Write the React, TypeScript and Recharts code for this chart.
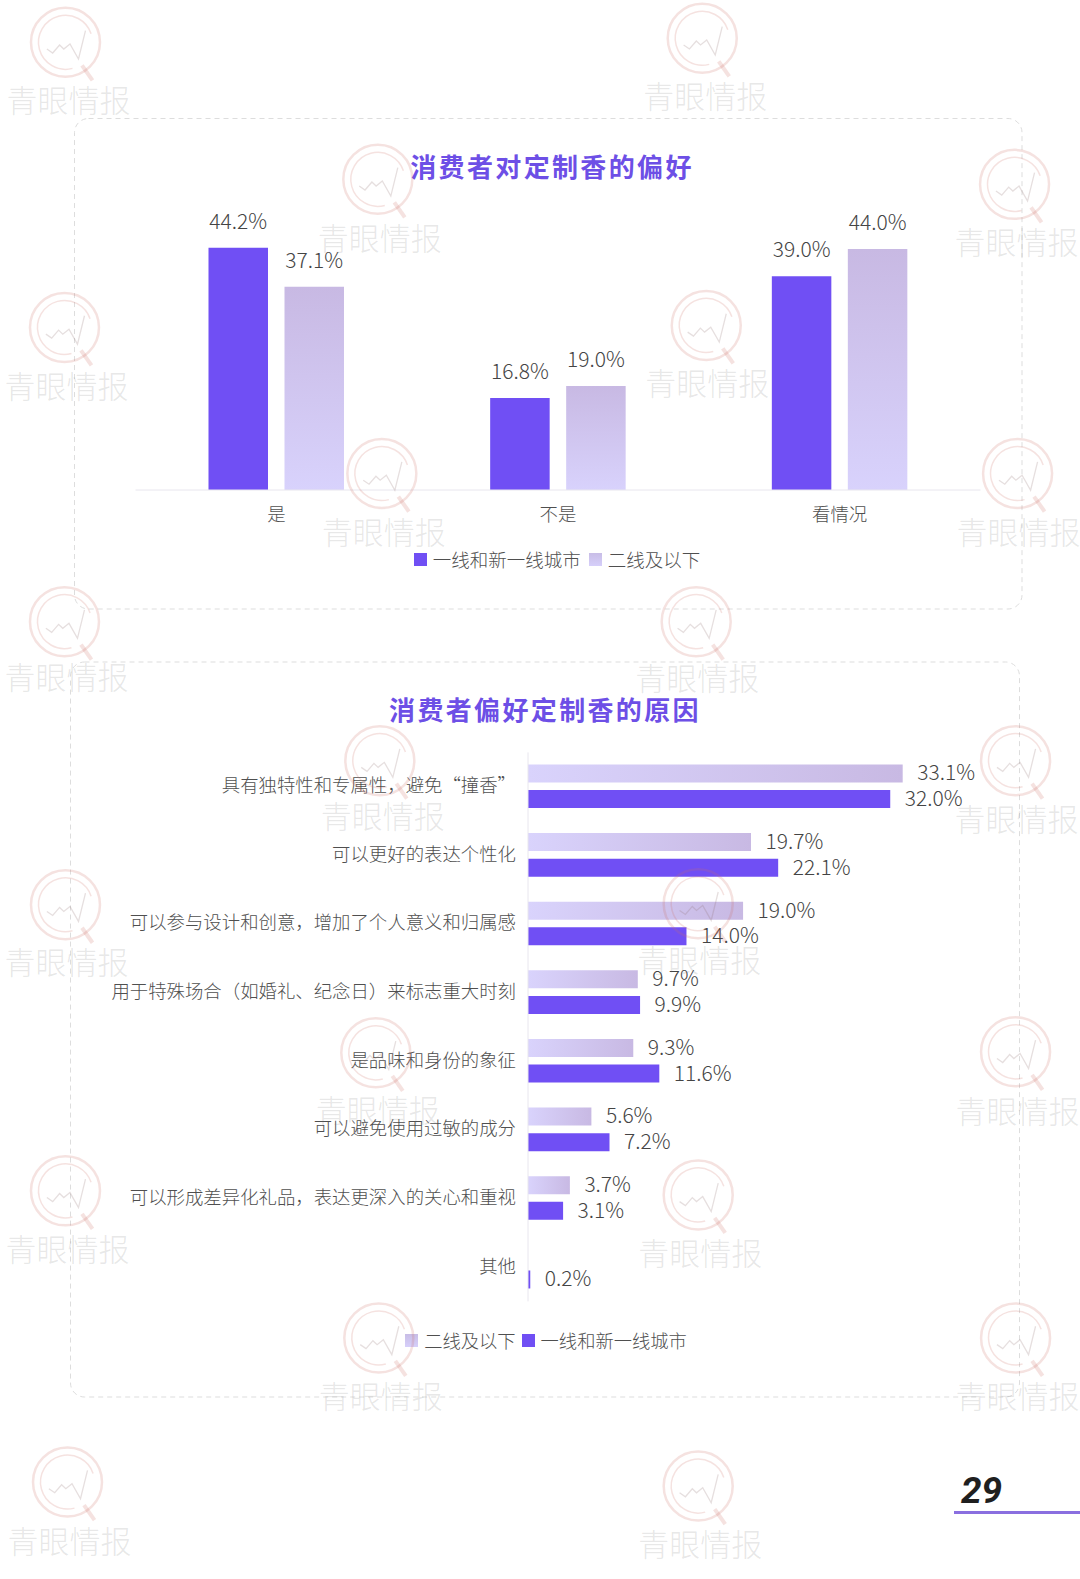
import React from "react";
import { BarChart, Bar, XAxis, YAxis, Legend, LabelList } from "recharts";

const FONT = '"Noto Sans CJK SC", "Noto Sans", sans-serif';
const PURPLE = "#704ff4";
const TEXT = "#4f4f4f";

// Chart 1
const prefCategories = ["是", "不是", "看情况"];
const prefTier1 = [44.2, 16.8, 39.0];
const prefTier2 = [37.1, 19.0, 44.0];
const prefData = prefCategories.map((name, i) => ({ name, tier1: prefTier1[i], tier2: prefTier2[i] }));

// Chart 2
const reasonCategories = [
  "具有独特性和专属性，避免“撞香”",
  "可以更好的表达个性化",
  "可以参与设计和创意，增加了个人意义和归属感",
  "用于特殊场合（如婚礼、纪念日）来标志重大时刻",
  "是品味和身份的象征",
  "可以避免使用过敏的成分",
  "可以形成差异化礼品，表达更深入的关心和重视",
  "其他",
];
const reasonTier2: (number | null)[] = [33.1, 19.7, 19.0, 9.7, 9.3, 5.6, 3.7, null];
const reasonTier1 = [32.0, 22.1, 14.0, 9.9, 11.6, 7.2, 3.1, 0.2];
const reasonData = reasonCategories.map((name, i) => ({ name, tier1: reasonTier1[i], tier2: reasonTier2[i] }));

const TIER1_NAME = "一线和新一线城市";
const TIER2_NAME = "二线及以下";

// Watermark anchors: [circle x, circle y, text x, text y]
const watermarks = [
  [65, 42, 68, 100], [697, 38, 700, 96], [375, 178, 377, 237], [1007, 183, 1009, 241],
  [64, 325, 66, 384], [701, 323, 702, 381], [379, 470, 381, 529], [1010, 470, 1011, 529],
  [64, 617, 66, 672], [691, 617, 692, 673], [377, 755, 380, 810], [1008, 755, 1009, 813],
  [65, 898, 66, 955], [693, 897, 694, 953], [373, 1045, 375, 1102], [1008, 1044, 1010, 1103],
  [65, 1182, 67, 1240], [693, 1186, 695, 1244], [376, 1328, 378, 1386], [1008, 1328, 1010, 1386],
  [67, 1471, 69, 1530], [693, 1475, 695, 1533],
];
const WM_SCALE = 1.0075;

const fmt = (v: any) => (v === null || v === undefined ? "" : `${Number(v).toFixed(1)}%`);

const swatchStyle = (key: string) => ({
  display: "inline-block",
  width: 13,
  height: 13,
  marginRight: 6,
  background: key === "tier1" ? PURPLE : "linear-gradient(180deg,#c8bde6,#d6cffa)",
});

const legendContent = (gap: number, size: number) => (props: any) => (
  <div style={{ display: "flex", justifyContent: "center", alignItems: "center", fontFamily: FONT, fontWeight: 300, fontSize: size, color: TEXT, lineHeight: "26px", whiteSpace: "nowrap" }}>
    {(props.payload || []).map((item: any, i: number) => (
      <span key={item.value} style={{ display: "inline-flex", alignItems: "center", marginLeft: i ? gap : 0 }}>
        <span style={swatchStyle(item.dataKey)} />
        {item.value}
      </span>
    ))}
  </div>
);

const titleStyle = (top: number, left: number): React.CSSProperties => ({
  position: "absolute",
  top,
  left,
  width: 400,
  marginLeft: -200,
  textAlign: "center",
  fontFamily: FONT,
  fontWeight: 700,
  fontSize: 26,
  letterSpacing: 2.35,
  lineHeight: "36px",
  color: "#6d4fe6",
  whiteSpace: "nowrap",
});

const labelProps = { fill: "#444", fontSize: 21, fontFamily: FONT, fontWeight: 300 };
const tickProps = { fill: TEXT, fontSize: 18.4, fontFamily: FONT, fontWeight: 300 };

function Watermarks() {
  return (
    <svg width={1080} height={1579} style={{ position: "absolute", left: 0, top: 0, pointerEvents: "none" }}>
      {watermarks.map(([cx, cy, tx, ty], i) => (
        <g key={i}>
          <g transform={`translate(${cx * WM_SCALE},${cy * WM_SCALE})`} fill="none" stroke="rgba(205,110,100,0.2)">
            <circle r={34.5} strokeWidth={2.5} />
            <circle r={27} strokeWidth={1.5} strokeDasharray="125 45" transform="rotate(75)" />
            <polyline points="-18.6,6.7 -12.8,10.7 -5.9,2.7 -1.7,6.7 4.5,1.7 13,16.7 20,-11.7" strokeWidth={1.3} stroke="rgba(140,110,110,0.22)" />
            <line x1={16.5} y1={23} x2={27} y2={38} strokeWidth={4} />
          </g>
          <text x={tx * WM_SCALE} y={(ty - 2) * WM_SCALE} textAnchor="middle" dominantBaseline="central" fontFamily={FONT} fontWeight={300} fontSize={31} fill="rgba(110,110,110,0.17)">
            青眼情报
          </text>
        </g>
      ))}
    </svg>
  );
}

export default function App() {
  return (
    <div style={{ position: "absolute", left: 0, top: 0, width: 1080, height: 1579, background: "#fff", overflow: "hidden" }}>
      <svg width={1080} height={1579} style={{ position: "absolute", left: 0, top: 0 }}>
        <rect x={74.5} y={118.5} width={947.5} height={490.5} rx={14} fill="none" stroke="#dddddd" strokeDasharray="5 4" />
        <rect x={70.5} y={662} width={949} height={735} rx={14} fill="none" stroke="#dddddd" strokeDasharray="5 4" />
      </svg>

      <div style={titleStyle(148, 552)}>消费者对定制香的偏好</div>
      <div style={titleStyle(691, 545)}>消费者偏好定制香的原因</div>

      <div style={{ position: "absolute", left: 0, top: 0 }}>
        <BarChart
          width={1080}
          height={620}
          data={prefData}
          margin={{ top: 216, right: 99.5, bottom: 100, left: 135.5 }}
          barSize={59.5}
          barGap={16.5}
          style={{ fontFamily: FONT }}
        >
          <defs>
            <linearGradient id="gradV" x1="0" y1="0" x2="0" y2="1">
              <stop offset="0%" stopColor="#c8b9e3" />
              <stop offset="100%" stopColor="#d8d2fc" />
            </linearGradient>
          </defs>
          <XAxis dataKey="name" height={30} axisLine={{ stroke: "#e8e6ee" }} tickLine={false} tickMargin={12} interval={0} tick={tickProps} />
          <YAxis hide domain={[0, 50]} />
          <Legend itemSorter={null} layout="horizontal" verticalAlign="middle" align="center" wrapperStyle={{ left: 0, top: 546, width: 1114 }} content={legendContent(8, 18.5)} />
          <Bar dataKey="tier1" name={TIER1_NAME} fill={PURPLE} isAnimationActive={false}>
            <LabelList dataKey="tier1" position="top" offset={19} formatter={fmt} {...labelProps} />
          </Bar>
          <Bar dataKey="tier2" name={TIER2_NAME} fill="url(#gradV)" isAnimationActive={false}>
            <LabelList dataKey="tier2" position="top" offset={19} formatter={fmt} {...labelProps} />
          </Bar>
        </BarChart>
      </div>

      <div style={{ position: "absolute", left: 0, top: 640 }}>
        <BarChart
          width={1080}
          height={720}
          layout="vertical"
          data={reasonData}
          margin={{ top: 112.4, right: 99.2, bottom: 58.6, left: 0 }}
          barSize={18}
          barGap={7.7}
          style={{ fontFamily: FONT }}
        >
          <defs>
            <linearGradient id="gradH" x1="0" y1="0" x2="1" y2="0">
              <stop offset="0%" stopColor="#d9d3fc" />
              <stop offset="100%" stopColor="#c8b9e3" />
            </linearGradient>
          </defs>
          <XAxis type="number" hide domain={[0, 40]} />
          <YAxis type="category" dataKey="name" width={528} axisLine={{ stroke: "#e8e6ee" }} tickLine={false} tickMargin={6} interval={0} tick={{ ...tickProps, dy: -1 }} />
          <Legend itemSorter={null} layout="horizontal" verticalAlign="middle" align="center" wrapperStyle={{ left: 0, top: 687, width: 1092 }} content={legendContent(6, 18.3)} />
          <Bar dataKey="tier2" name={TIER2_NAME} fill="url(#gradH)" isAnimationActive={false}>
            <LabelList dataKey="tier2" position="right" offset={14.5} dy={-0.5} formatter={fmt} {...labelProps} />
          </Bar>
          <Bar dataKey="tier1" name={TIER1_NAME} fill={PURPLE} isAnimationActive={false}>
            <LabelList dataKey="tier1" position="right" offset={14.5} dy={-0.5} formatter={fmt} {...labelProps} />
          </Bar>
        </BarChart>
      </div>

      <div style={{ position: "absolute", left: 961, top: 1469, fontFamily: "Roboto, sans-serif", fontStyle: "italic", fontWeight: 700, fontSize: 37, lineHeight: "44px", color: "#1f1f1f" }}>29</div>
      <div style={{ position: "absolute", left: 954, top: 1511, width: 126, height: 3, background: "#8a6fe0" }} />

      <Watermarks />
    </div>
  );
}
